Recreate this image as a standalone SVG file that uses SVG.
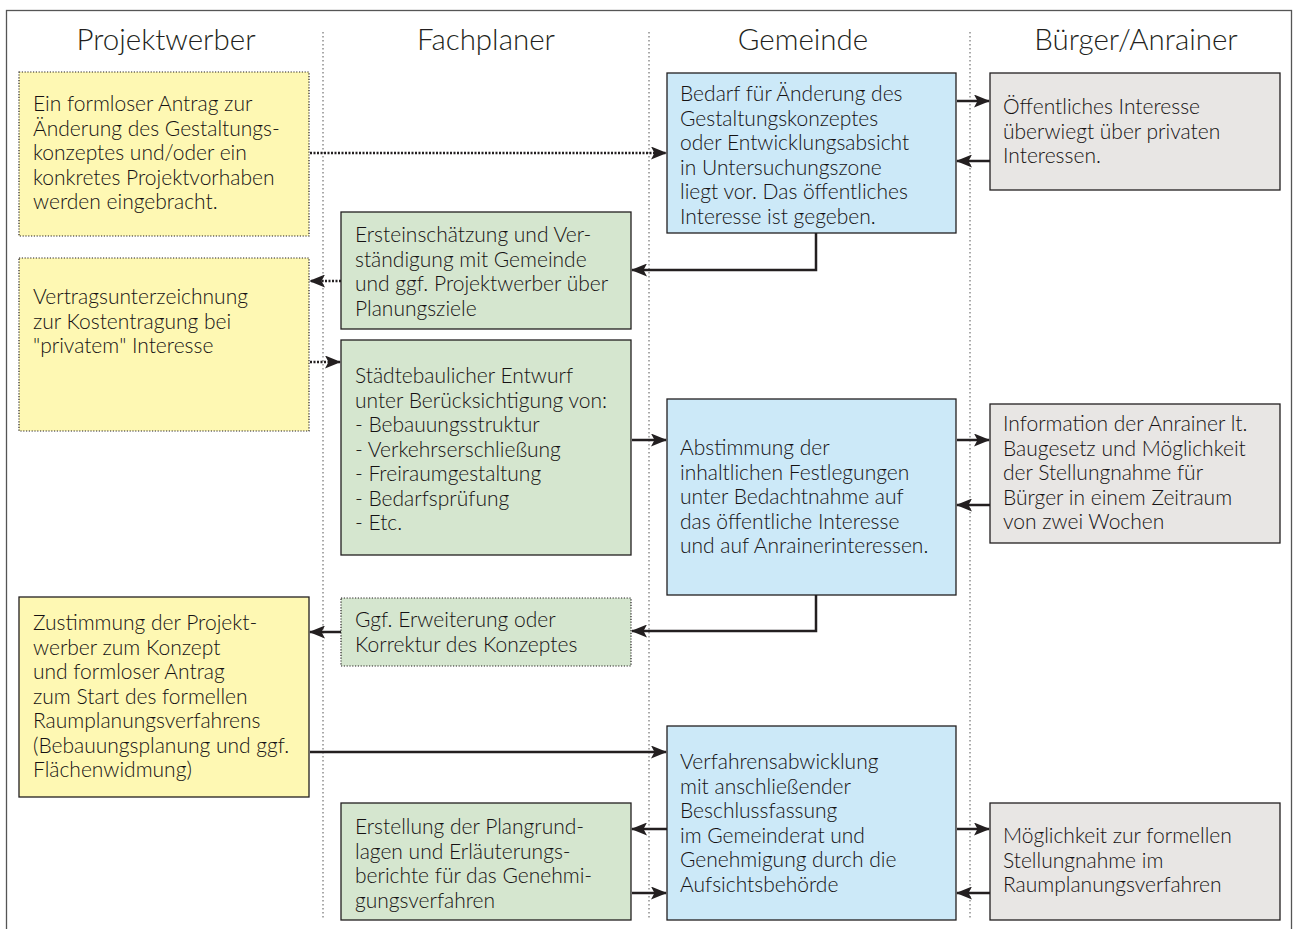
<svg xmlns="http://www.w3.org/2000/svg" width="1298" height="929" viewBox="0 0 1298 929">
<style>
.hdr{font-family:Lato,"Open Sans","Liberation Sans",sans-serif;font-size:29.5px;font-weight:300;fill:#231F20;text-anchor:middle}
.t{font-family:Lato,"Open Sans","Liberation Sans",sans-serif;font-size:21px;font-weight:300;fill:#151213}
.lane{stroke:#555;stroke-width:1;stroke-dasharray:1.5 2.5;fill:none}
.y{fill:#FEF8B3}
.b{fill:#CCE9F8}
.g{fill:#E8E6E4}
.gr{fill:#D5E6CF}
.solid{stroke:#231F20;stroke-width:1.3}
.dot{stroke:#231F20;stroke-width:1.2;stroke-dasharray:1.2 1.6}
.c{stroke:#231F20;stroke-width:2.5;fill:none}
.cd{stroke:#231F20;stroke-width:2.5;fill:none;stroke-dasharray:2 1.5}
</style>
<defs>
<marker id="ah" markerWidth="16" markerHeight="13" refX="15" refY="6.5" orient="auto" markerUnits="userSpaceOnUse">
<path d="M0,0 L16,6.5 L0,13 L3.5,6.5 Z" fill="#231F20"/>
</marker>
</defs>
<rect x="0" y="0" width="1298" height="929" fill="#fff"/>
<rect x="6.5" y="10.5" width="1285" height="930" fill="none" stroke="#555" stroke-width="1.3"/>
<g id="lanes">
<line class="lane" x1="323" y1="32" x2="323" y2="920"/>
<line class="lane" x1="649" y1="32" x2="649" y2="920"/>
<line class="lane" x1="970" y1="32" x2="970" y2="920"/>
<text class="hdr" x="166" y="50">Projektwerber</text>
<text class="hdr" x="486" y="50">Fachplaner</text>
<text class="hdr" x="803" y="50">Gemeinde</text>
<text class="hdr" x="1136" y="50">Bürger/Anrainer</text>
</g>
<g id="connectors">
<line class="cd" x1="310" y1="153" x2="666" y2="153" marker-end="url(#ah)"/>
<line class="c" x1="957" y1="101" x2="989" y2="101" marker-end="url(#ah)"/>
<line class="c" x1="990" y1="161" x2="957" y2="161" marker-end="url(#ah)"/>
<polyline class="c" points="816,233 816,270 632,270" marker-end="url(#ah)"/>
<line class="cd" x1="341" y1="281" x2="310" y2="281" marker-end="url(#ah)"/>
<line class="cd" x1="310" y1="362" x2="340" y2="362" marker-end="url(#ah)"/>
<line class="c" x1="632" y1="440" x2="666" y2="440" marker-end="url(#ah)"/>
<line class="c" x1="957" y1="440" x2="989" y2="440" marker-end="url(#ah)"/>
<line class="c" x1="990" y1="505" x2="957" y2="505" marker-end="url(#ah)"/>
<polyline class="c" points="816,595 816,631 632,631" marker-end="url(#ah)"/>
<line class="c" x1="341" y1="632" x2="310" y2="632" marker-end="url(#ah)"/>
<line class="c" x1="310" y1="752" x2="666" y2="752" marker-end="url(#ah)"/>
<line class="c" x1="667" y1="829" x2="632" y2="829" marker-end="url(#ah)"/>
<line class="c" x1="632" y1="893" x2="666" y2="893" marker-end="url(#ah)"/>
<line class="c" x1="957" y1="829" x2="989" y2="829" marker-end="url(#ah)"/>
<line class="c" x1="990" y1="893" x2="957" y2="893" marker-end="url(#ah)"/>
</g>
<g id="n_antrag">
<rect class="y dot" x="19" y="72" width="290" height="164"/>
<text class="t"><tspan x="33" y="111">Ein formloser Antrag zur</tspan><tspan x="33" y="135.5">Änderung des Gestaltungs-</tspan><tspan x="33" y="160">konzeptes und/oder ein</tspan><tspan x="33" y="184.5">konkretes Projektvorhaben</tspan><tspan x="33" y="209">werden eingebracht.</tspan></text>
</g>
<g id="n_bedarf">
<rect class="b solid" x="667" y="73" width="289" height="160"/>
<text class="t"><tspan x="680" y="101">Bedarf für Änderung des</tspan><tspan x="680" y="125.5">Gestaltungskonzeptes</tspan><tspan x="680" y="150">oder Entwicklungsabsicht</tspan><tspan x="680" y="174.5">in Untersuchungszone</tspan><tspan x="680" y="199">liegt vor. Das öffentliches</tspan><tspan x="680" y="223.5">Interesse ist gegeben.</tspan></text>
</g>
<g id="n_oeffentlich">
<rect class="g solid" x="990" y="73" width="290" height="117"/>
<text class="t"><tspan x="1003" y="114">Öffentliches Interesse</tspan><tspan x="1003" y="138.5">überwiegt über privaten</tspan><tspan x="1003" y="163">Interessen.</tspan></text>
</g>
<g id="n_erst">
<rect class="gr solid" x="341" y="212" width="290" height="117"/>
<text class="t"><tspan x="355" y="242">Ersteinschätzung und Ver-</tspan><tspan x="355" y="266.5">ständigung mit Gemeinde</tspan><tspan x="355" y="291">und ggf. Projektwerber über</tspan><tspan x="355" y="315.5">Planungsziele</tspan></text>
</g>
<g id="n_vertrag">
<rect class="y dot" x="19" y="258" width="290" height="173"/>
<text class="t"><tspan x="33" y="304">Vertragsunterzeichnung</tspan><tspan x="33" y="328.5">zur Kostentragung bei</tspan><tspan x="33" y="353">"privatem" Interesse</tspan></text>
</g>
<g id="n_entwurf">
<rect class="gr solid" x="341" y="340" width="290" height="215"/>
<text class="t"><tspan x="355" y="383">Städtebaulicher Entwurf</tspan><tspan x="355" y="407.5">unter Berücksichtigung von:</tspan><tspan x="355" y="432">- Bebauungsstruktur</tspan><tspan x="355" y="456.5">- Verkehrserschließung</tspan><tspan x="355" y="481">- Freiraumgestaltung</tspan><tspan x="355" y="505.5">- Bedarfsprüfung</tspan><tspan x="355" y="530">- Etc.</tspan></text>
</g>
<g id="n_abstimmung">
<rect class="b solid" x="667" y="399" width="289" height="196"/>
<text class="t"><tspan x="680" y="455">Abstimmung der</tspan><tspan x="680" y="479.5">inhaltlichen Festlegungen</tspan><tspan x="680" y="504">unter Bedachtnahme auf</tspan><tspan x="680" y="528.5">das öffentliche Interesse</tspan><tspan x="680" y="553">und auf Anrainerinteressen.</tspan></text>
</g>
<g id="n_information">
<rect class="g solid" x="990" y="404" width="290" height="139"/>
<text class="t"><tspan x="1003" y="431">Information der Anrainer lt.</tspan><tspan x="1003" y="455.5">Baugesetz und Möglichkeit</tspan><tspan x="1003" y="480">der Stellungnahme für</tspan><tspan x="1003" y="504.5">Bürger in einem Zeitraum</tspan><tspan x="1003" y="529">von zwei Wochen</tspan></text>
</g>
<g id="n_erweiterung">
<rect class="gr dot" x="341" y="598" width="290" height="68"/>
<text class="t"><tspan x="355" y="627">Ggf. Erweiterung oder</tspan><tspan x="355" y="651.5">Korrektur des Konzeptes</tspan></text>
</g>
<g id="n_zustimmung">
<rect class="y solid" x="19" y="597" width="290" height="200"/>
<text class="t"><tspan x="33" y="630">Zustimmung der Projekt-</tspan><tspan x="33" y="654.5">werber zum Konzept</tspan><tspan x="33" y="679">und formloser Antrag</tspan><tspan x="33" y="703.5">zum Start des formellen</tspan><tspan x="33" y="728">Raumplanungsverfahrens</tspan><tspan x="33" y="752.5">(Bebauungsplanung und ggf.</tspan><tspan x="33" y="777">Flächenwidmung)</tspan></text>
</g>
<g id="n_verfahren">
<rect class="b solid" x="667" y="726" width="289" height="194"/>
<text class="t"><tspan x="680" y="769">Verfahrensabwicklung</tspan><tspan x="680" y="793.5">mit anschließender</tspan><tspan x="680" y="818">Beschlussfassung</tspan><tspan x="680" y="842.5">im Gemeinderat und</tspan><tspan x="680" y="867">Genehmigung durch die</tspan><tspan x="680" y="891.5">Aufsichtsbehörde</tspan></text>
</g>
<g id="n_erstellung">
<rect class="gr solid" x="341" y="803" width="290" height="117"/>
<text class="t"><tspan x="355" y="834">Erstellung der Plangrund-</tspan><tspan x="355" y="858.5">lagen und Erläuterungs-</tspan><tspan x="355" y="883">berichte für das Genehmi-</tspan><tspan x="355" y="907.5">gungsverfahren</tspan></text>
</g>
<g id="n_moeglichkeit">
<rect class="g solid" x="990" y="803" width="290" height="117"/>
<text class="t"><tspan x="1003" y="843">Möglichkeit zur formellen</tspan><tspan x="1003" y="867.5">Stellungnahme im</tspan><tspan x="1003" y="892">Raumplanungsverfahren</tspan></text>
</g>
</svg>
